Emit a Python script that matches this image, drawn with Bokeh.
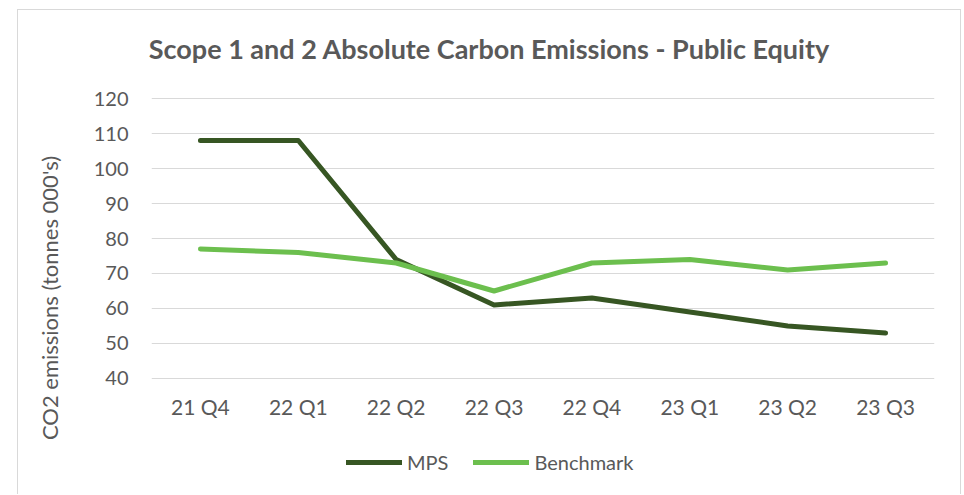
from bokeh.plotting import figure
from bokeh.models import (FactorRange, Range1d, Legend, LegendItem, Div,
                          FixedTicker, ColumnDataSource)
from bokeh.layouts import column, row
from bokeh.embed import file_html
from bokeh.resources import INLINE

quarters = ["21 Q4", "22 Q1", "22 Q2", "22 Q3", "22 Q4", "23 Q1", "23 Q2", "23 Q3"]
mps = [108, 108, 74, 61, 63, 59, 55, 53]
benchmark = [77, 76, 73, 65, 73, 74, 71, 73]
y_ticks = [40, 50, 60, 70, 80, 90, 100, 110, 120]
series_names = ["MPS", "Benchmark"]

title_text = "Scope 1 and 2 Absolute Carbon Emissions - Public Equity"
y_label = "CO2 emissions (tonnes 000's)"

FONT = "Lato"
TXT = "#595959"
DARK = "#375623"
LIGHT = "#6CBF4E"
GRID = "#d9d9d9"
LW = 5

src = ColumnDataSource(dict(q=quarters, mps=mps, bench=benchmark))

# ---- title (HTML text above the chart) ----
title_div = Div(text=title_text, width=942, height=70, margin=0,
                styles={"font-family": FONT, "font-weight": "bold",
                        "font-size": "27px", "color": TXT,
                        "text-align": "center", "line-height": "78px",
                        "width": "942px", "white-space": "nowrap"})

# ---- y-axis title (rotated HTML text) ----
ylab_html = ('<div style="position:relative;width:52px;height:360px;">'
             '<div style="position:absolute;left:32px;top:218px;'
             'transform:translate(-50%,-50%) rotate(-90deg);white-space:nowrap;'
             'font-family:' + FONT + ';font-size:22px;color:' + TXT + ';">'
             + y_label + '</div></div>')
ylab_div = Div(text=ylab_html, width=52, height=360, margin=0)

# ---- main chart ----
p = figure(width=890, height=360, x_range=FactorRange(*quarters),
           y_range=Range1d(39.7, 120.3), output_backend="svg", toolbar_location=None,
           min_border_left=81, min_border_right=26, min_border_top=17,
           min_border_bottom=61)
p.outline_line_color = None
p.background_fill_color = "white"
p.border_fill_color = "white"

p.xgrid.grid_line_color = None
p.ygrid.grid_line_color = GRID
p.ygrid.grid_line_width = 1.2

p.yaxis.ticker = FixedTicker(ticks=y_ticks)
for ax in (p.xaxis[0], p.yaxis[0]):
    ax.axis_line_color = None
    ax.major_tick_line_color = None
    ax.minor_tick_line_color = None
    ax.major_tick_out = 0
    ax.major_tick_in = 0
    ax.minor_tick_out = 0
    ax.major_label_text_font = FONT
    ax.major_label_text_color = TXT
p.yaxis.major_label_text_font_size = "20px"
p.xaxis.major_label_text_font_size = "21px"
p.yaxis.major_label_standoff = 23
p.xaxis.major_label_standoff = 14

p.line("q", "mps", source=src, line_color=DARK, line_width=LW,
       line_cap="round", line_join="round")
p.line("q", "bench", source=src, line_color=LIGHT, line_width=LW,
       line_cap="round", line_join="round")

# ---- legend strip (series drawn off-view; only their legend keys show) ----
pl = figure(width=942, height=54, x_range=FactorRange(*quarters),
            y_range=Range1d(0, 1), output_backend="svg", toolbar_location=None,
            x_axis_type=None, y_axis_type=None, min_border=0)
pl.outline_line_color = None
pl.grid.visible = False
pl.background_fill_alpha = 0
pl.border_fill_alpha = 0
k1 = pl.line("q", "mps", source=src, line_color=DARK, line_width=LW, line_cap="round")
k2 = pl.line("q", "bench", source=src, line_color=LIGHT, line_width=LW, line_cap="round")
legend = Legend(items=[LegendItem(label=series_names[0], renderers=[k1]),
                       LegendItem(label=series_names[1], renderers=[k2])],
                orientation="horizontal", location=(328, 20),
                label_text_font=FONT, label_text_font_size="20px",
                label_text_color=TXT, glyph_width=56, label_standoff=5,
                spacing=25, border_line_color=None, background_fill_alpha=0,
                padding=0, margin=0)
pl.add_layout(legend, "center")

layout = column(title_div, row(ylab_div, p, spacing=0), pl,
                margin=(9, 0, 0, 17), spacing=0,
                styles={"border-style": "solid", "border-color": GRID,
                        "border-width": "1px 1px 0 1px"})

open("out.html", "w").write(file_html(layout, INLINE))
